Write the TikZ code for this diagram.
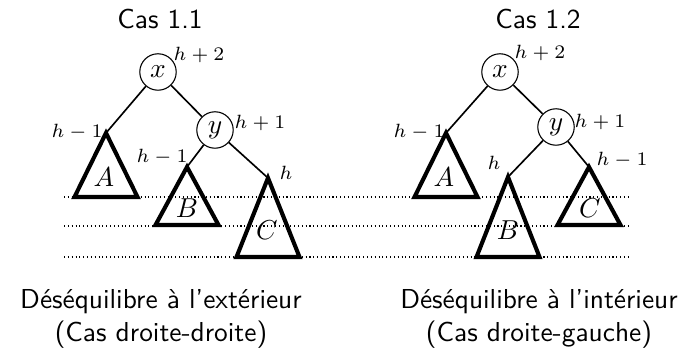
\documentclass[tikz,border=0pt]{standalone}
\usepackage{amsmath,amssymb}
\usepackage{tikz}
\usetikzlibrary{calc}
\begin{document}
\begin{tikzpicture}[x=0.365pt, y=-0.365pt,
	nd/.style={draw, circle, minimum size=13.3pt, inner sep=0pt, line width=0.4pt},
	arete/.style={line width=0.6pt},
	tri/.style={line width=1.5pt},
	ht/.style={font=\fontsize{6.6}{7.5}\selectfont},
	lvl/.style={densely dotted, line width=0.4pt},
	titre/.style={font=\sffamily}]
	\useasboundingbox (0,0) rectangle (695,355);
	% niveaux
	\draw[lvl] (64,197) -- (628,197);
	\draw[lvl] (64,226) -- (628,226);
	\draw[lvl] (64,257) -- (628,257);
	% Cas 1.1
	\node[titre, anchor=base] (t1) at (160,29) {Cas 1.1};
	\node[nd] (x1) at (158,72) {$x$};
	\node[nd] (y1) at (215,130) {$y$};
	\coordinate (A1) at (106,133);
	\coordinate (B1) at (187,167);
	\coordinate (C1) at (268,178);
	\draw[arete] (x1) -- (A1);
	\draw[arete] (x1) -- (y1);
	\draw[arete] (y1) -- (B1);
	\draw[arete] (y1) -- (C1);
	\draw[tri] (A1) -- ++(-31.5,64) -- ++(63,0) -- cycle;
	\draw[tri] (B1) -- ++(-31.5,58) -- ++(63,0) -- cycle;
	\draw[tri] (C1) -- ++(-31.5,79) -- ++(63,0) -- cycle;
	\node (a1) at (104,177) {$A$};
	\node (b1) at (187,208) {$B$};
	\node (c1) at (267,230) {$C$};
	\node[ht] (hx1) at (199,55) {$h+2$};
	\node[ht] (hy1) at (260,123) {$h+1$};
	\node[ht] (ha1) at (77,132) {$h-1$};
	\node[ht] (hb1) at (162,157) {$h-1$};
	\node[ht] (hc1) at (286,173) {$h$};
	\node[titre, align=center, anchor=north, inner sep=0pt] (d1) at (161,289)
		{Déséquilibre à l’extérieur\\(Cas droite-droite)};
	% Cas 1.2
	\node[titre, anchor=base] (t2) at (538,29) {Cas 1.2};
	\node[nd] (x2) at (500,72) {$x$};
	\node[nd] (y2) at (556,127) {$y$};
	\coordinate (A2) at (446,133);
	\coordinate (B2) at (508,177);
	\coordinate (C2) at (589,167);
	\draw[arete] (x2) -- (A2);
	\draw[arete] (x2) -- (y2);
	\draw[arete] (y2) -- (B2);
	\draw[arete] (y2) -- (C2);
	\draw[tri] (A2) -- ++(-31.5,64) -- ++(63,0) -- cycle;
	\draw[tri] (B2) -- ++(-31.5,80) -- ++(63,0) -- cycle;
	\draw[tri] (C2) -- ++(-31.5,58) -- ++(63,0) -- cycle;
	\node (a2) at (444,177) {$A$};
	\node (b2) at (508,230) {$B$};
	\node (c2) at (590,208) {$C$};
	\node[ht] (hx2) at (540,53) {$h+2$};
	\node[ht] (hy2) at (600,122) {$h+1$};
	\node[ht] (ha2) at (419,132) {$h-1$};
	\node[ht] (hb2) at (494,163) {$h$};
	\node[ht] (hc2) at (622,160) {$h-1$};
	\node[titre, align=center, anchor=north, inner sep=0pt] (d2) at (539,289)
		{Déséquilibre à l’intérieur\\(Cas droite-gauche)};
\end{tikzpicture}
\end{document}
